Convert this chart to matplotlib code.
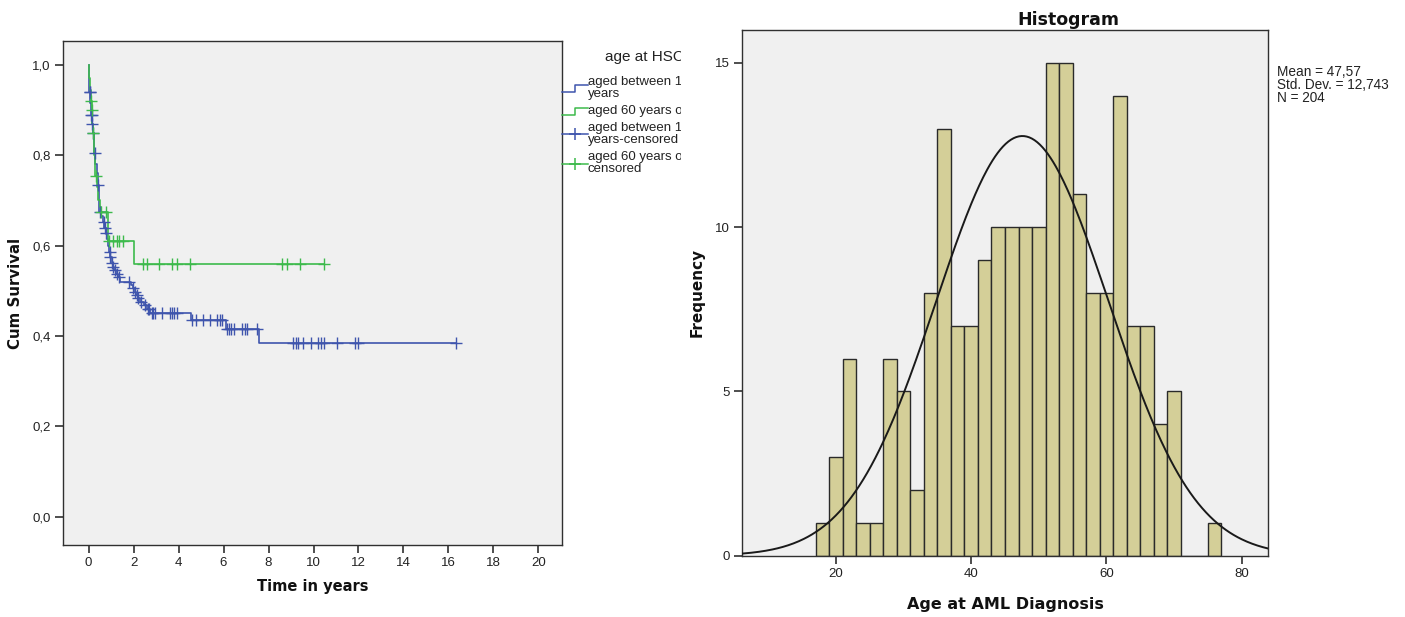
import numpy as np
import matplotlib
matplotlib.use("Agg")
import matplotlib.pyplot as plt
from matplotlib.ticker import FuncFormatter

plt.rcParams['font.family'] = ['Liberation Sans', 'DejaVu Sans']

# ---------------- Kaplan-Meier data ----------------
# group aged 18-59: event times (years) and survival after each step
km_young_t = [0, 0.01, 0.03, 0.06, 0.1, 0.14, 0.18, 0.22, 0.26, 0.3,
              0.35, 0.4, 0.45, 0.48, 0.56, 0.64, 0.7, 0.76, 0.82, 0.88,
              0.92, 0.96, 1.02, 1.08, 1.12, 1.2, 1.3, 1.4, 1.9, 1.96,
              2.04, 2.1, 2.18, 2.3, 2.45, 2.6, 2.75, 4.55, 6.11, 7.58]
km_young_s = [1.0, 0.97, 0.94, 0.915, 0.89, 0.87, 0.85, 0.83, 0.805, 0.78,
              0.76, 0.735, 0.7, 0.675, 0.665, 0.652, 0.64, 0.628, 0.615, 0.6,
              0.585, 0.575, 0.562, 0.553, 0.546, 0.538, 0.531, 0.52, 0.512, 0.505,
              0.497, 0.49, 0.484, 0.476, 0.468, 0.46, 0.45, 0.435, 0.416, 0.385]
km_young_cens = [0.04, 0.05, 0.12, 0.13, 0.17, 0.19, 0.27, 0.42, 0.49, 0.67,
                 0.72, 0.79, 0.94, 0.97, 1.06, 1.09, 1.16, 1.27, 1.36, 1.8,
                 1.98, 2.06, 2.13, 2.2, 2.35, 2.5, 2.62, 2.7, 2.8, 2.88,
                 2.95, 3.25, 3.6, 3.7, 3.8, 3.92, 4.6, 4.79, 5.09, 5.41,
                 5.71, 5.82, 5.94, 6.15, 6.25, 6.35, 6.45, 6.83, 6.95, 7.05,
                 7.47, 9.11, 9.22, 9.32, 9.52, 9.89, 10.21, 10.34, 10.46, 11.05,
                 11.86, 12.0, 16.33]

# group aged 60 or older
km_old_t = [0, 0.02, 0.05, 0.1, 0.13, 0.16, 0.18, 0.24, 0.3, 0.36,
            0.42, 0.5, 0.55, 0.85, 0.88, 2.02]
km_old_s = [1.0, 0.97, 0.945, 0.92, 0.9, 0.87, 0.85, 0.8, 0.755, 0.73,
            0.7, 0.685, 0.675, 0.64, 0.611, 0.559]
km_old_cens = [0.11, 0.14, 0.19, 0.31, 0.57, 0.76, 0.91, 1.09, 1.24, 1.36,
               1.53, 2.43, 2.58, 3.15, 3.7, 3.92, 4.49, 8.62, 8.84, 9.41, 10.48]

legend_title = "age at HSCT"
legend_labels = ["aged between 18 and 59\nyears",
                 "aged 60 years or older",
                 "aged between 18 and 59\nyears-censored",
                 "aged 60 years or older-\ncensored"]

# ---------------- Histogram data ----------------
bin_start = 17
bin_width = 2
age_counts = [1, 3, 6, 1, 1, 6, 5, 2, 8, 13,
              7, 7, 9, 10, 10, 10, 10, 15, 15, 11,
              8, 8, 14, 7, 7, 4, 5, 0, 0, 1]
age_mean = 47.57
age_sd = 12.743
age_n = 204

BLUE = '#3f55ad'
GREEN = '#3dba4c'
PANEL = '#f0f0f0'
SPINE = '#303030'
BAR = '#d4cf98'
LABEL_FONT = dict(family='DejaVu Sans', fontweight='bold', color='#111111')

W, H = 1405, 617
fig = plt.figure(figsize=(W / 100, H / 100), dpi=100)
fig.patch.set_facecolor('white')


def px_axes(x0, y0, x1, y1):
    return fig.add_axes([x0 / W, 1 - y1 / H, (x1 - x0) / W, (y1 - y0) / H])


def comma(v, _pos):
    return f"{v:.1f}".replace('.', ',')


def style(ax):
    ax.set_facecolor(PANEL)
    for sp in ax.spines.values():
        sp.set_color(SPINE)
        sp.set_linewidth(1.0)
    ax.tick_params(direction='out', length=6, width=1.2, color=SPINE,
                   labelsize=9.5, labelcolor='#222222', pad=3)


# ---------------- Survival panel ----------------
ax1 = px_axes(63, 41, 562, 545)
style(ax1)


def km_line(ax, t, s, cens, color):
    t_end = max(max(t), max(cens))
    tt = list(t) + [t_end]
    ss = list(s) + [s[-1]]
    ax.step(tt, ss, where='post', color=color, lw=1.2, zorder=3)
    idx = np.searchsorted(np.array(t), np.array(cens), side='right') - 1
    cy = np.array(s)[idx]
    ax.plot(cens, cy, linestyle='none', marker='+', markersize=8,
            markeredgewidth=1.0, color=color, zorder=4)


km_line(ax1, km_young_t, km_young_s, km_young_cens, BLUE)
km_line(ax1, km_old_t, km_old_s, km_old_cens, GREEN)

ax1.set_xlim(-1.14, 21.05)
ax1.set_ylim(-0.063, 1.053)
ax1.set_xticks(np.arange(0, 21, 2))
ax1.set_yticks(np.arange(0, 1.01, 0.2))
ax1.yaxis.set_major_formatter(FuncFormatter(comma))
ax1.set_xlabel("Time in years", fontsize=10.5, **LABEL_FONT)
ax1.set_ylabel("Cum Survival", fontsize=10.8, **LABEL_FONT)
ax1.xaxis.set_label_coords(0.5, -0.082)
ax1.yaxis.set_label_coords(-0.096, 0.5)
ax1.xaxis.label.set_va('center')
ax1.yaxis.label.set_va('center')

# legend block, clipped on its right side
lg = px_axes(556, 41, 681, 190)
lg.set_xlim(556, 681)
lg.set_ylim(190, 41)
lg.axis('off')
lg.text(605, 57, legend_title, fontsize=11, ha='left', va='center',
        color='#222222', clip_on=True)
# step icons
lg.plot([562, 575, 575, 588], [92, 92, 85, 85], color=BLUE, lw=1.1, clip_on=True)
lg.plot([562, 575, 575, 588], [115, 115, 108, 108], color=GREEN, lw=1.1, clip_on=True)
# censored icons
lg.plot([562, 588], [134, 134], color=BLUE, lw=1.1, clip_on=True)
lg.plot([575], [134], marker='+', markersize=9, mew=1.1, color=BLUE, clip_on=True)
lg.plot([562, 588], [164, 164], color=GREEN, lw=1.1, clip_on=True)
lg.plot([575], [164], marker='+', markersize=9, mew=1.1, color=GREEN, clip_on=True)
label_y = [88.5, 111, 134.5, 163.5]
for lab, y in zip(legend_labels, label_y):
    lg.text(588, y, lab, fontsize=9.5, ha='left', va='center', color='#222222',
            linespacing=1.0, clip_on=True)

# ---------------- Histogram panel ----------------
ax2 = px_axes(742, 30, 1268, 555.7)
style(ax2)
edges = bin_start + bin_width * np.arange(len(age_counts) + 1)
ax2.bar(edges[:-1], age_counts, width=bin_width, align='edge',
        color=BAR, edgecolor='#2a2a2a', linewidth=1.0, zorder=2)
xs = np.linspace(6.1, 83.9, 400)
pdf = age_n * bin_width * np.exp(-0.5 * ((xs - age_mean) / age_sd) ** 2) / (age_sd * np.sqrt(2 * np.pi))
ax2.plot(xs, pdf, color='#1a1a1a', lw=1.4, zorder=3)
ax2.set_xlim(6.1, 83.9)
ax2.set_ylim(0, 16)
ax2.set_xticks([20, 40, 60, 80])
ax2.set_yticks([0, 5, 10, 15])
ax2.set_xlabel("Age at AML Diagnosis", fontsize=11.5, **LABEL_FONT)
ax2.set_ylabel("Frequency", fontsize=11, **LABEL_FONT)
ax2.xaxis.set_label_coords(0.5, -0.092)
ax2.yaxis.set_label_coords(-0.086, 0.5)
ax2.xaxis.label.set_va('center')
ax2.yaxis.label.set_va('center')
fig.text(1068 / W, 1 - 20 / H, "Histogram", fontsize=12.5, ha='center',
         va='center', **LABEL_FONT)

mean_txt = f"{age_mean:.2f}".replace('.', ',')
sd_txt = f"{age_sd:.3f}".replace('.', ',')
fig.text(1277 / W, 1 - 65 / H,
         f"Mean = {mean_txt}\nStd. Dev. = {sd_txt}\nN = {age_n}",
         fontsize=9.8, ha='left', va='top', linespacing=0.92, color='#222222')

fig.savefig("out.png", dpi=100)
